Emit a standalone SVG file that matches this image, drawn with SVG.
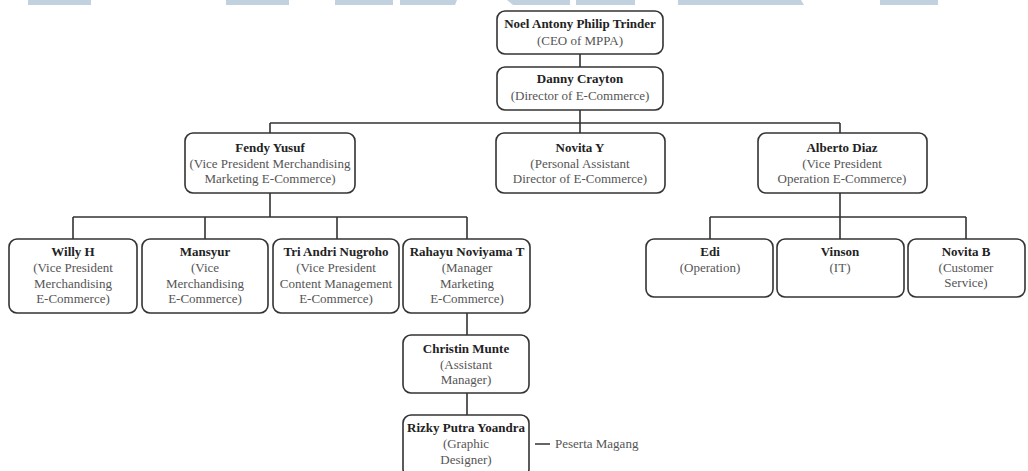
<svg xmlns="http://www.w3.org/2000/svg" width="1028" height="471" viewBox="0 0 1028 471">
<style>
.box{fill:#fff;stroke:#333;stroke-width:1.6}
.n{font-family:"Liberation Serif","Times New Roman",serif;font-size:13px;font-weight:bold;fill:#222;text-anchor:middle}
.s{font-family:"Liberation Serif","Times New Roman",serif;font-size:13px;fill:#555;text-anchor:middle}
.c{fill:none;stroke:#333;stroke-width:1.6}
.wm{fill:#c2d1df}
</style>
<rect width="1028" height="471" fill="#fff"/>
<g id="watermark">
<rect class="wm" x="28" y="0" width="63" height="5"/>
<rect class="wm" x="226" y="0" width="63" height="5"/>
<rect class="wm" x="335" y="0" width="58" height="5"/>
<polygon class="wm" points="400,0 457,0 455,5 400,5"/>
<polygon class="wm" points="507,0 570,0 570,5 513,5"/>
<rect class="wm" x="576" y="0" width="59" height="5"/>
<polygon class="wm" points="678,0 801,0 804,5 678,5"/>
<rect class="wm" x="880" y="0" width="58" height="5"/>
</g>
<g id="connectors">
<path class="c" d="M580 54V67M580 110V133M270 123H840M270 123V133M840 123V133"/>
<path class="c" d="M270 193V217M73 217H467M73 217V239M205 217V239M337 217V239M467 217V239"/>
<path class="c" d="M840 193V217M710 217H966M710 217V239M840 217V239M966 217V239"/>
<path class="c" d="M467 313V335M467 393V415M535 444H550"/>
</g>
<g id="ceo"><rect class="box" x="497" y="11" width="166" height="43" rx="8"/><text class="n" x="580" y="28">Noel Antony Philip Trinder</text><text class="s" x="580" y="45">(CEO of MPPA)</text></g>
<g id="danny"><rect class="box" x="497" y="67" width="166" height="43" rx="8"/><text class="n" x="580" y="83">Danny Crayton</text><text class="s" x="580" y="100">(Director of E-Commerce)</text></g>
<g id="fendy"><rect class="box" x="185" y="133" width="170" height="60" rx="8"/><text class="n" x="270" y="152">Fendy Yusuf</text><text class="s" x="270" y="167.5">(Vice President Merchandising</text><text class="s" x="270" y="183">Marketing E-Commerce)</text></g>
<g id="novitay"><rect class="box" x="496" y="133" width="169" height="60" rx="8"/><text class="n" x="580" y="152">Novita Y</text><text class="s" x="580" y="167.5">(Personal Assistant</text><text class="s" x="580" y="183">Director of E-Commerce)</text></g>
<g id="alberto"><rect class="box" x="758" y="133" width="169" height="60" rx="8"/><text class="n" x="842" y="152">Alberto Diaz</text><text class="s" x="842" y="167.5">(Vice President</text><text class="s" x="842" y="183">Operation E-Commerce)</text></g>
<g id="willy"><rect class="box" x="9" y="239" width="128" height="74" rx="8"/><text class="n" x="73" y="256">Willy H</text><text class="s" x="73" y="272">(Vice President</text><text class="s" x="73" y="287.5">Merchandising</text><text class="s" x="73" y="303">E-Commerce)</text></g>
<g id="mansyur"><rect class="box" x="142" y="239" width="126" height="74" rx="8"/><text class="n" x="205" y="256">Mansyur</text><text class="s" x="205" y="272">(Vice</text><text class="s" x="205" y="287.5">Merchandising</text><text class="s" x="205" y="303">E-Commerce)</text></g>
<g id="tri"><rect class="box" x="273" y="239" width="126" height="74" rx="8"/><text class="n" x="336" y="256">Tri Andri Nugroho</text><text class="s" x="336" y="272">(Vice President</text><text class="s" x="336" y="287.5">Content Management</text><text class="s" x="336" y="303">E-Commerce)</text></g>
<g id="rahayu"><rect class="box" x="403" y="239" width="127" height="74" rx="8"/><text class="n" x="467" y="256">Rahayu Noviyama T</text><text class="s" x="467" y="272">(Manager</text><text class="s" x="467" y="287.5">Marketing</text><text class="s" x="467" y="303">E-Commerce)</text></g>
<g id="edi"><rect class="box" x="646" y="239" width="127" height="58" rx="8"/><text class="n" x="710" y="256">Edi</text><text class="s" x="710" y="271.5">(Operation)</text></g>
<g id="vinson"><rect class="box" x="777" y="239" width="127" height="58" rx="8"/><text class="n" x="840" y="256">Vinson</text><text class="s" x="840" y="271.5">(IT)</text></g>
<g id="novitab"><rect class="box" x="908" y="239" width="117" height="58" rx="8"/><text class="n" x="966" y="256">Novita B</text><text class="s" x="966" y="271.5">(Customer</text><text class="s" x="966" y="287">Service)</text></g>
<g id="christin"><rect class="box" x="403" y="335" width="126" height="58" rx="8"/><text class="n" x="466" y="353">Christin Munte</text><text class="s" x="466" y="368.5">(Assistant</text><text class="s" x="466" y="384">Manager)</text></g>
<g id="rizky"><rect class="box" x="403" y="415" width="126" height="62" rx="8"/><text class="n" x="466" y="432">Rizky Putra Yoandra</text><text class="s" x="466" y="448">(Graphic</text><text class="s" x="466" y="463.5">Designer)</text></g>
<text id="peserta" x="555" y="448" font-family="Liberation Serif, Times New Roman, serif" font-size="13" fill="#555">Peserta Magang</text>
</svg>
